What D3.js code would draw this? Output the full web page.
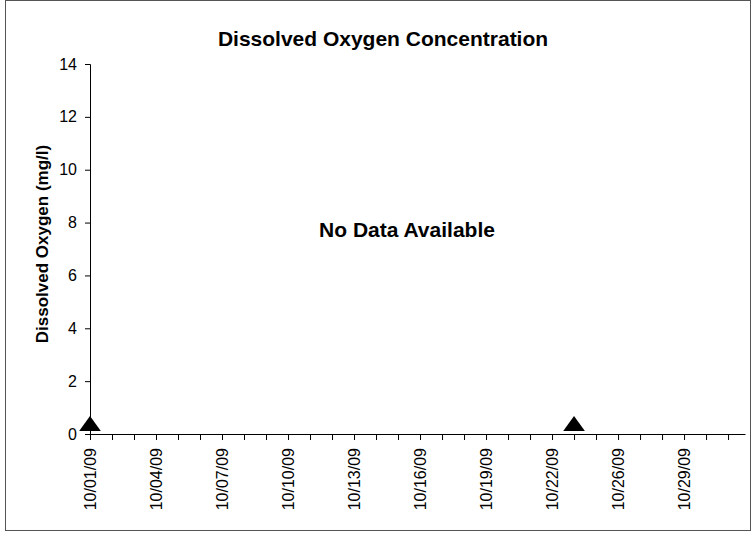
<!DOCTYPE html>
<html>
<head>
<meta charset="utf-8">
<script src="https://cdn.jsdelivr.net/npm/d3@7"></script>
<style>
  html, body { margin: 0; padding: 0; background: #fff; }
  svg { display: block; font-family: Arial, "Liberation Sans", sans-serif; }
</style>
</head>
<body>
<svg id="chart" width="751" height="533"></svg>
<script>
// ---- data ----
const chartTitle = "Dissolved Oxygen Concentration";
const yLabel = "Dissolved Oxygen (mg/l)";
const noDataText = "No Data Available";
// day offsets from 10/01/09 that carry a tick label, and their labels
const labelDays = [0, 3, 6, 9, 12, 15, 18, 21, 24, 27];
const tickLabels = ["10/01/09", "10/04/09", "10/07/09", "10/10/09", "10/13/09",
                    "10/16/09", "10/19/09", "10/22/09", "10/26/09", "10/29/09"];
const minorTickDays = d3.range(0, 30);       // one tick per day
const yTicks = [0, 2, 4, 6, 8, 10, 12, 14];
// marker points (day offset, value)
const markerDays = [0, 22];
const markerValues = [0.3, 0.3];

(function () {
const FONT = "Arial, 'Liberation Sans', sans-serif";
const svg = d3.select("#chart");
const mLeft = 90, mRight = 745, mTop = 64, mBottom = 434;

svg.append("rect")
  .attr("x", 5.5).attr("y", 0.5).attr("width", 745).attr("height", 530)
  .attr("fill", "#fff").attr("stroke", "#555").attr("stroke-width", 1);

const x = d3.scaleLinear().domain([0, 29.77]).range([mLeft, mRight]);
const y = d3.scaleLinear().domain([0, 14]).range([mBottom, mTop]);

// y axis
const yAxis = d3.axisLeft(y).tickValues(yTicks).tickSize(5).tickPadding(8).tickFormat(d3.format("d"));
const gy = svg.append("g").attr("transform", `translate(${mLeft},0)`).call(yAxis);
gy.attr("font-family", FONT).attr("font-size", 16);
gy.select(".domain").attr("stroke", "#000");
gy.selectAll(".tick line").attr("stroke", "#000");
gy.selectAll(".tick text").attr("fill", "#000");

// x axis: minor ticks
const xAxis = d3.axisBottom(x).tickValues(minorTickDays).tickSize(6).tickSizeOuter(0).tickFormat("");
const gx = svg.append("g").attr("transform", `translate(0,${mBottom})`).call(xAxis);
gx.select(".domain").attr("stroke", "#000");
gx.selectAll(".tick line").attr("stroke", "#000");

// x tick labels (rotated)
svg.append("g").attr("font-family", FONT).selectAll("text")
  .data(labelDays)
  .join("text")
  .attr("transform", d => `translate(${x(d) + 6},${mBottom + 14}) rotate(-90)`)
  .attr("text-anchor", "end")
  .attr("font-size", 16)
  .attr("fill", "#000")
  .text((d, i) => tickLabels[i]);

// title
svg.append("text")
  .attr("x", 383).attr("y", 46)
  .attr("text-anchor", "middle")
  .attr("font-family", FONT)
  .attr("font-size", 21).attr("font-weight", "bold")
  .text(chartTitle);

// y label
svg.append("text")
  .attr("transform", `translate(48,244) rotate(-90)`)
  .attr("text-anchor", "middle")
  .attr("font-family", FONT)
  .attr("font-size", 17).attr("font-weight", "bold")
  .text(yLabel);

// no data text
svg.append("text")
  .attr("x", 407).attr("y", 237)
  .attr("text-anchor", "middle")
  .attr("font-family", FONT)
  .attr("font-size", 21).attr("font-weight", "bold")
  .text(noDataText);

// markers
const tri = d3.symbol().type(d3.symbolTriangle).size(130);
svg.append("g").selectAll("path")
  .data(markerDays)
  .join("path")
  .attr("d", tri)
  .attr("transform", (d, i) => `translate(${x(d)},${y(markerValues[i])}) scale(1.25,1)`)
  .attr("fill", "#000");
})();
</script>
</body>
</html>
